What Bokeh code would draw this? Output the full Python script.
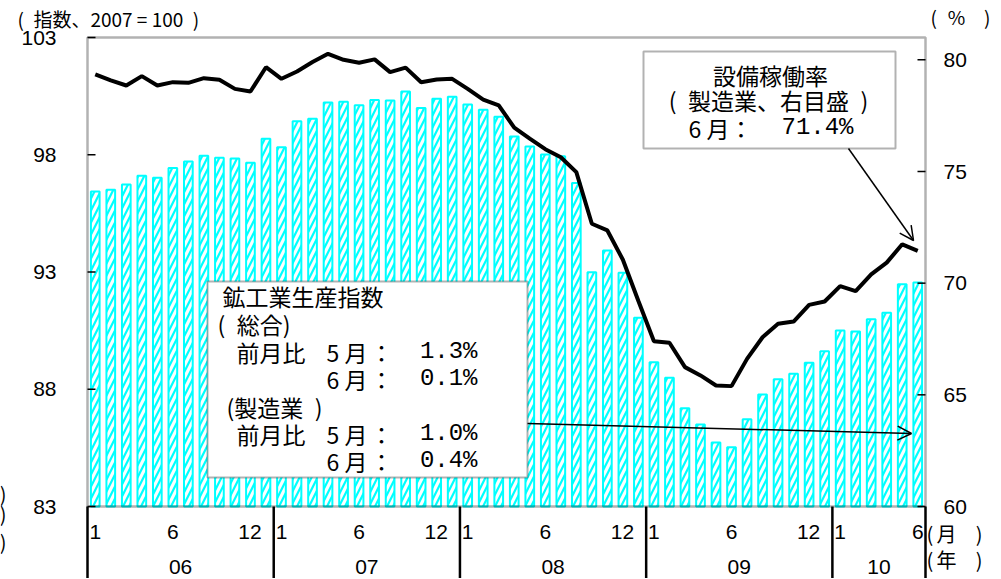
from bokeh.plotting import figure
from bokeh.models import Range1d, BoxAnnotation, Label, Arrow, OpenHead
from bokeh.embed import file_html
from bokeh.resources import INLINE

# ---------------- data ----------------
years = ["06", "07", "08", "09", "10"]
year_months = [12, 12, 12, 12, 6]

# 鉱工業生産指数 (2007=100), Jan 2006 .. Jun 2010
iip = [96.43, 96.51, 96.73, 97.10, 97.02, 97.44, 97.71, 97.96, 97.87, 97.84, 97.66, 98.68,
       98.32, 99.43, 99.53, 100.23, 100.26, 100.11, 100.33, 100.31, 100.70, 99.99, 100.39, 100.47,
       100.14, 99.92, 99.62, 98.78, 98.35, 98.01, 97.94, 96.80, 92.99, 93.92, 92.97, 91.05,
       89.15, 88.49, 87.19, 86.50, 85.73, 85.53, 86.72, 87.78, 88.43, 88.66, 89.13, 89.62,
       90.51, 90.46, 90.99, 91.26, 92.48, 92.55]

# 設備稼働率 (製造業, %)
util = [79.35, 79.08, 78.85, 79.27, 78.85, 79.00, 78.97, 79.18, 79.11, 78.70, 78.58, 79.67,
        79.15, 79.48, 79.90, 80.27, 80.00, 79.87, 80.02, 79.45, 79.65, 79.00, 79.12, 79.15,
        78.70, 78.22, 77.96, 76.96, 76.47, 76.00, 75.64, 74.97, 72.66, 72.36, 71.05, 69.20,
        67.40, 67.33, 66.24, 65.87, 65.42, 65.39, 66.61, 67.58, 68.18, 68.28, 69.03, 69.18,
        69.87, 69.64, 70.39, 70.92, 71.74, 71.45]

left_ticks = [83, 88, 93, 98, 103]
right_ticks = [60, 65, 70, 75, 80]

n = len(iip)
xs = [i + 0.5 for i in range(n)]
Y0, Y1 = 83, 103     # left scale
R0, R1 = 60, 81      # right scale

# ---------------- layout (page pixels) ----------------
W, H = 1000, 578
PL, PR, PT, PB = 87, 925, 37, 506       # plot box
ppm = (PR - PL) / n                      # px per month
ppl = (PB - PT) / (Y1 - Y0)              # px per left unit
ppr = (PB - PT) / (R1 - R0)              # px per right unit

x_start = -PL / ppm
x_end = (W - PL) / ppm
y_start = Y0 - (H - PB) / ppl
y_end = Y1 + PT / ppl
r_start = R0 - (H - PB) / ppr
r_end = R1 + PT / ppr

p = figure(width=W, height=H, output_backend="svg", toolbar_location=None,
           x_range=Range1d(x_start, x_end), y_range=Range1d(y_start, y_end),
           x_axis_location=None, y_axis_location=None, min_border=0)
p.extra_y_ranges = {"util": Range1d(r_start, r_end)}
p.xgrid.visible = False
p.ygrid.visible = False
p.outline_line_color = None
p.background_fill_color = "white"
p.border_fill_color = "white"

def px(sx):
    return (sx - PL) / ppm

def py(sy):
    return Y0 + (PB - sy) / ppl

# bars
p.vbar(x=xs, top=iip, bottom=Y0, width=0.56, fill_color="white",
       line_color="#00FFFF", line_width=2,
       hatch_pattern="/", hatch_color="#00FFFF", hatch_scale=12, hatch_weight=2.2)

# utilization line (right scale)
p.line(xs, util, y_range_name="util", line_color="black", line_width=4)

# plot box
p.add_layout(BoxAnnotation(left=0, right=n, bottom=Y0, top=Y1, fill_alpha=0,
                           line_color="black", line_width=2.5, level="annotation"))

# year separators under the plot
bounds = [0]
for m in year_months:
    bounds.append(bounds[-1] + m)
p.segment(x0=bounds, x1=bounds, y0=[Y0] * len(bounds), y1=[y_start] * len(bounds),
          line_color="black", line_width=2.5)

NUMF = "Liberation Sans"
NUMS = "21px"

# left scale ticks + labels
p.segment(x0=[0] * len(left_ticks), x1=[8 / ppm] * len(left_ticks),
          y0=left_ticks, y1=left_ticks, line_color="black", line_width=1.5)
for t in left_ticks:
    p.add_layout(Label(x=px(56), y=t, text=str(t),
                       text_font=NUMF, text_font_size=NUMS,
                       text_align="right", text_baseline="middle", text_color="black"))

# right scale ticks + labels
p.segment(x0=[n - 8 / ppm] * len(right_ticks), x1=[n] * len(right_ticks),
          y0=right_ticks, y1=right_ticks, y_range_name="util",
          line_color="black", line_width=1.5)
for t in right_ticks:
    p.add_layout(Label(x=n + 18 / ppm, y=t, y_range_name="util", text=str(t),
                       text_font=NUMF, text_font_size=NUMS,
                       text_align="left", text_baseline="middle", text_color="black"))

JP = "Noto Sans CJK JP"
MONO = "Liberation Mono"
SP = "\u2002"

def lab(sx, sy, text, size="23px", align="left", font=JP):
    p.add_layout(Label(x=px(sx), y=py(sy), text=text, text_font=font,
                       text_font_size=size, text_align=align,
                       text_baseline="middle", text_color="black"))

def num(x, text, sy, align):
    p.add_layout(Label(x=x, y=py(sy), text=text, text_font=NUMF,
                       text_font_size=NUMS, text_align=align,
                       text_baseline="middle", text_color="black"))

# month / year labels
for k, y in enumerate(years):
    b = bounds[k]
    m = year_months[k]
    num(b + 0.5, "1", 531, "center")
    num(b + 5.5, "6", 531, "center")
    if m == 12:
        num(b + 12 - 0.78, "12", 531, "right")
    num(b + m / 2, y, 566, "center")

# unit labels
lab(926, 533, "(", size="20px")
lab(946, 533, "月", size="20px", align="center")
lab(982, 533, ")", size="20px", align="right")
lab(926, 559, "(", size="20px")
lab(946, 559, "年", size="20px", align="center")
lab(982, 559, ")", size="20px", align="right")
lab(930, 16, "(", size="19px")
lab(956, 16, "%", size="19px", align="center")
lab(990, 16, ")", size="19px", align="right")
lab(17, 18, "(" + SP + "指数、2007 = 100" + SP + ")", size="19px")
for sy in (493, 513, 541):
    lab(6, sy, ")", size="20px", align="right")

# box 1: capacity utilization
p.add_layout(BoxAnnotation(left=px(643), right=px(895), top=py(51), bottom=py(148),
                           fill_color="white", fill_alpha=1.0,
                           line_color="black", line_width=2, level="annotation"))
lab(770, 74, "設備稼働率", align="center")
lab(768, 99, "(" + SP + "製造業、右目盛" + SP + ")", align="center")
lab(688, 127, "6 月：")
lab(853, 127, "71.4%", align="right", font=MONO, size="24px")
p.add_layout(Arrow(x_start=px(848), y_start=py(148), x_end=px(913), y_end=py(240),
                   line_color="black", line_width=1.5,
                   end=OpenHead(size=14, line_color="black", line_width=1.5)))

# box 2: production index
p.add_layout(BoxAnnotation(left=px(207), right=px(527), top=py(281), bottom=py(477),
                           fill_color="white", fill_alpha=1.0,
                           line_color="black", line_width=2, level="annotation"))
lab(222, 295, "鉱工業生産指数")
lab(217, 323, "(" + SP + "総合)")
lab(236, 351, "前月比")
lab(326, 351, "5 月")
lab(381, 351, "：", align="center")
lab(477, 351, "1.3%", align="right", font=MONO, size="24px")
lab(326, 378, "6 月")
lab(381, 378, "：", align="center")
lab(477, 378, "0.1%", align="right", font=MONO, size="24px")
lab(226, 406, "(製造業" + SP + ")")
lab(236, 433, "前月比")
lab(326, 433, "5 月")
lab(381, 433, "：", align="center")
lab(477, 433, "1.0%", align="right", font=MONO, size="24px")
lab(326, 460, "6 月")
lab(381, 460, "：", align="center")
lab(477, 460, "0.4%", align="right", font=MONO, size="24px")
p.add_layout(Arrow(x_start=px(527), y_start=py(423), x_end=px(911), y_end=py(433),
                   line_color="black", line_width=1.5,
                   end=OpenHead(size=14, line_color="black", line_width=1.5)))

open("out.html", "w").write(file_html(p, INLINE))
